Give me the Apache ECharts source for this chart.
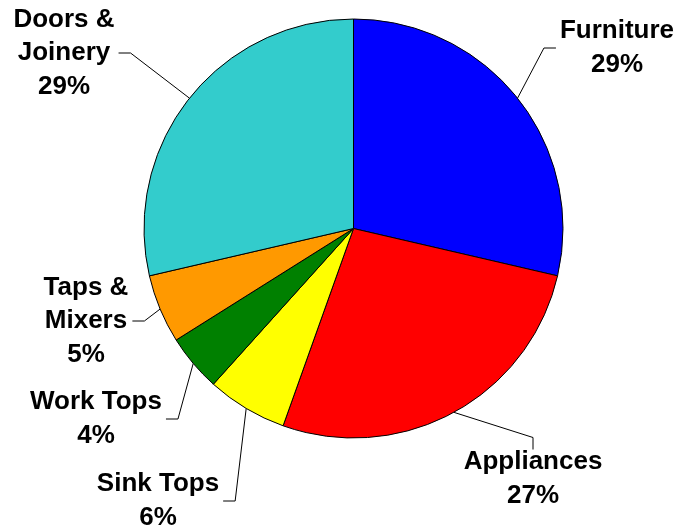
<!DOCTYPE html>
<html lang="en">
<head>
    <meta charset="utf-8">
    <title>Sales mix</title>
    <script src="https://cdn.jsdelivr.net/npm/echarts@6/dist/echarts.min.js"></script>
</head>
<body style="margin:0;background:#fff;">
    <div id="main" style="width:687px;height:527px;"></div>
    <script type="text/javascript">
    // slices, clockwise from 12 o'clock (shares)
    var categories = ['Furniture', 'Appliances', 'Sink Tops', 'Work Tops', 'Taps &\nMixers', 'Doors &\nJoinery'];
    var shares = [28.6, 26.8, 6.2, 4.4, 5.3, 28.6];

    var colors = ['#0000ff', '#ff0000', '#ffff00', '#008000', '#ff9900', '#33cccc'];
    // label block centres (px) and which side the leader line comes in from
    var labelPos = [[617, 48], [533, 479], [158, 501], [96, 419], [86, 321], [64, 53]];
    var labelSide = ['left', 'top', 'right', 'right', 'right', 'right'];

    var myChart = echarts.init(document.getElementById('main'));

    // Excel style leader: arc midpoint -> short tick -> label edge
    function leader(p) {
        var pos = labelPos[p.dataIndex];
        var w = p.labelRect.width, h = p.labelRect.height;
        var lay = myChart.getModel().getSeriesByIndex(0).getData().getItemLayout(p.dataIndex);
        var mid = (lay.startAngle + lay.endAngle) / 2;
        var start = [lay.cx + Math.cos(mid) * lay.r, lay.cy + Math.sin(mid) * lay.r];
        var end, tick;
        if (labelSide[p.dataIndex] === 'left') {
            end = [pos[0] - w / 2 - 4, pos[1]];
            tick = [end[0] - 12, end[1]];
        } else if (labelSide[p.dataIndex] === 'right') {
            end = [pos[0] + w / 2 + 4, pos[1]];
            tick = [end[0] + 12, end[1]];
        } else {
            end = [pos[0], pos[1] - h / 2 + 4];
            tick = [end[0], end[1] - 12];
        }
        return [start, tick, end];
    }

    myChart.setOption({
        animation: false,
        series: [{
            type: 'pie',
            center: [353.5, 228.5],
            radius: 209.5,
            startAngle: 90,
            clockwise: true,
            percentPrecision: 0,
            data: categories.map(function (c, i) {
                return { name: c, value: shares[i], itemStyle: { color: colors[i] } };
            }),
            itemStyle: { borderColor: '#000', borderWidth: 1 },
            label: {
                show: true,
                position: 'outside',
                formatter: '{b}\n{d}%',
                fontFamily: 'Liberation Sans, Arial, sans-serif',
                fontWeight: 'bold',
                fontSize: 26,
                lineHeight: 33.5,
                color: '#000',
                align: 'center'
            },
            labelLine: {
                show: true,
                length: 12,
                length2: 12,
                lineStyle: { color: '#000', width: 1 }
            },
            labelLayout: function (p) {
                var pos = labelPos[p.dataIndex];
                return {
                    x: pos[0], y: pos[1], align: 'center', verticalAlign: 'middle',
                    labelLinePoints: leader(p)
                };
            }
        }]
    });
    </script>
</body>
</html>
